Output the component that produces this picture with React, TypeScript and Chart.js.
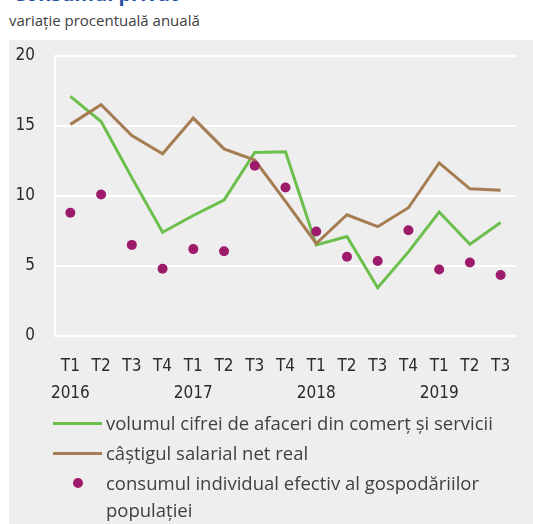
import React, { useEffect, useRef } from "react";
import { Chart, registerables } from "chart.js";

Chart.register(...registerables);

const quarters = ["T1", "T2", "T3", "T4", "T1", "T2", "T3", "T4", "T1", "T2", "T3", "T4", "T1", "T2", "T3"];
const years = ["2016", "", "", "", "2017", "", "", "", "2018", "", "", "", "2019", "", ""];
const volumCifraAfaceri = [17.1, 15.3, 11.3, 7.4, 8.6, 9.7, 13.1, 13.15, 6.5, 7.1, 3.45, 6.0, 8.85, 6.55, 8.1];
const castigSalarial = [15.1, 16.5, 14.3, 13.0, 15.55, 13.35, 12.55, 9.6, 6.6, 8.65, 7.8, 9.15, 12.35, 10.5, 10.4];
const consumIndividual = [8.8, 10.1, 6.5, 4.8, 6.2, 6.05, 12.15, 10.6, 7.45, 5.65, 5.35, 7.55, 4.75, 5.25, 4.35];
const yTicks = [0, 5, 10, 15, 20];

const seriesNames = [
  "volumul cifrei de afaceri din comerț și servicii",
  "câștigul salarial net real",
  "consumul individual efectiv al gospodăriilor populației",
];

const GREEN = "#6cbf4c";
const BROWN = "#a67c52";
const PURPLE = "#9e1a6b";
const TICK_FONT = "'Liberation Sans Narrow', 'DejaVu Sans Condensed', 'Roboto', sans-serif";
const TEXT_FONT = "'Open Sans', 'Noto Sans', sans-serif";

const CANVAS_H = 380;
const PLOT_BOTTOM = 296;

export default function App() {
  const canvasRef = useRef<HTMLCanvasElement | null>(null);

  useEffect(() => {
    if (!canvasRef.current) return;
    const labels = quarters.map((q, i) => [q, years[i]]);
    const chart = new Chart(canvasRef.current, {
      type: "line",
      data: {
        labels,
        datasets: [
          {
            label: seriesNames[0],
            data: volumCifraAfaceri,
            borderColor: GREEN,
            backgroundColor: GREEN,
            borderWidth: 3,
            pointRadius: 0,
            tension: 0,
            order: 2,
          },
          {
            label: seriesNames[1],
            data: castigSalarial,
            borderColor: BROWN,
            backgroundColor: BROWN,
            borderWidth: 3,
            pointRadius: 0,
            tension: 0,
            order: 1,
          },
          {
            label: seriesNames[2],
            data: consumIndividual,
            showLine: false,
            borderColor: PURPLE,
            backgroundColor: PURPLE,
            pointRadius: 5,
            pointBorderWidth: 0,
            order: 0,
          },
        ],
      },
      options: {
        animation: false,
        responsive: false,
        maintainAspectRatio: false,
        layout: { padding: { top: 15.7, right: 17, bottom: 0, left: 0 } },
        plugins: {
          legend: { display: false },
          tooltip: { enabled: false },
        },
        scales: {
          x: {
            offset: true,
            grid: { display: false, drawTicks: false },
            border: { display: false },
            ticks: {
              color: "#2b2b2b",
              font: { family: TICK_FONT, size: 17, lineHeight: 1.58 },
              padding: 17,
              maxRotation: 0,
              autoSkip: false,
            },
            afterFit: (scale: any) => {
              scale.height = CANVAS_H - PLOT_BOTTOM;
            },
          },
          y: {
            min: 0,
            max: 20,
            afterBuildTicks: (scale: any) => {
              scale.ticks = yTicks.map((v) => ({ value: v }));
            },
            grid: { color: "#ffffff", lineWidth: 2, drawTicks: false },
            border: { display: true, color: "#ffffff", width: 2 },
            ticks: {
              color: "#2b2b2b",
              font: { family: TICK_FONT, size: 17 },
              padding: 20,
            },
            afterFit: (scale: any) => {
              scale.width = 46;
              scale.paddingTop = 0;
              scale.paddingBottom = 0;
            },
          },
        },
      },
    });
    return () => chart.destroy();
  }, []);

  const legendText: React.CSSProperties = {
    position: "absolute",
    left: 106,
    fontFamily: TEXT_FONT,
    fontSize: 18.5,
    color: "#404040",
    lineHeight: "27px",
    whiteSpace: "nowrap",
  };

  return (
    <div style={{ position: "absolute", left: 0, top: 0, width: 533, height: 524, overflow: "hidden", background: "#ffffff" }}>
      <div
        style={{
          position: "absolute",
          left: 13,
          top: -16,
          fontFamily: TEXT_FONT,
          fontWeight: 700,
          fontSize: 20,
          lineHeight: "20px",
          color: "#2352a3",
          whiteSpace: "nowrap",
        }}
      >
        Consumul privat
      </div>
      <div
        style={{
          position: "absolute",
          left: 9,
          top: 10,
          fontFamily: TEXT_FONT,
          fontSize: 15,
          lineHeight: "20px",
          color: "#404040",
          whiteSpace: "nowrap",
        }}
      >
        variație procentuală anuală
      </div>
      <div style={{ position: "absolute", left: 9, top: 40, width: 524, height: 484, background: "#eeeeee" }}>
        <canvas ref={canvasRef} width={524} height={CANVAS_H} style={{ display: "block", width: 524, height: CANVAS_H }} />
      </div>
      <div style={{ position: "absolute", left: 53, top: 422, width: 49, height: 3, background: GREEN }} />
      <div style={{ ...legendText, top: 409 }}>{seriesNames[0]}</div>
      <div style={{ position: "absolute", left: 53, top: 452, width: 49, height: 3, background: BROWN }} />
      <div style={{ ...legendText, top: 439 }}>{seriesNames[1]}</div>
      <div style={{ position: "absolute", left: 73, top: 478, width: 10, height: 10, borderRadius: 5, background: PURPLE }} />
      <div style={{ ...legendText, top: 469 }}>
        consumul individual efectiv al gospodăriilor
        <br />
        populației
      </div>
    </div>
  );
}
